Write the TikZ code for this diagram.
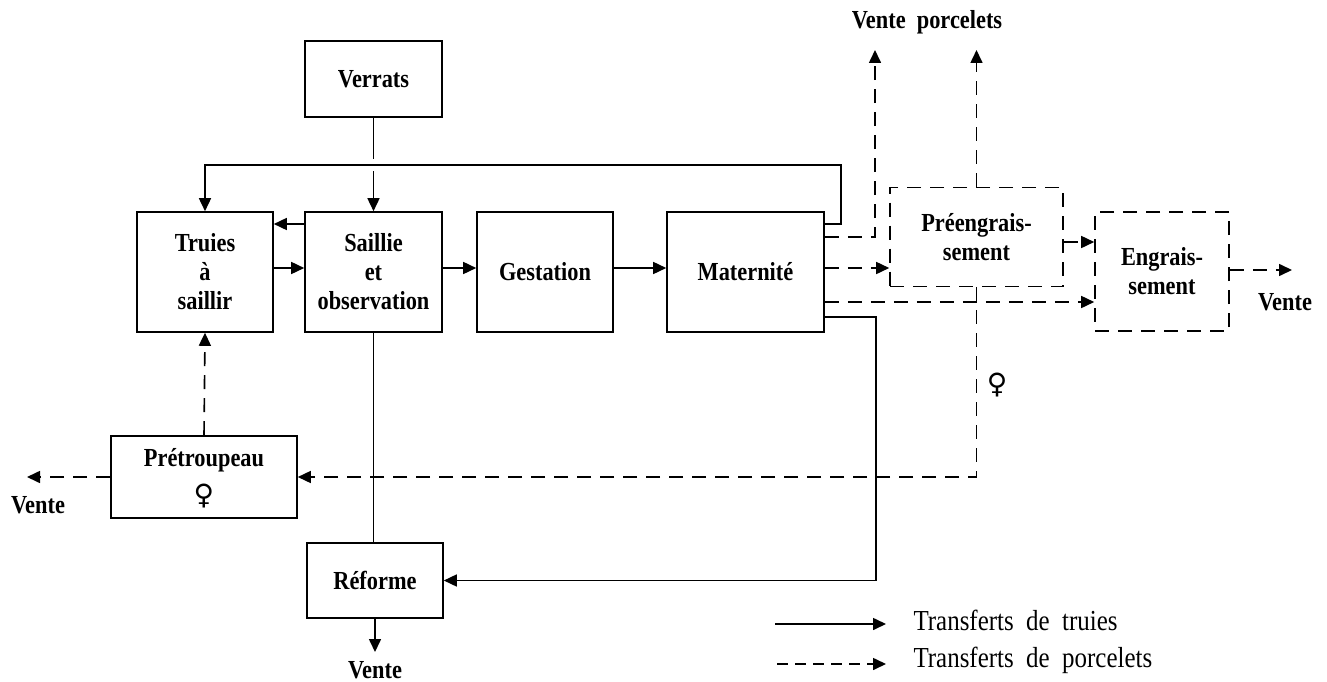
\documentclass[tikz,border=0pt]{standalone}
\usepackage{fontspec}
\setmainfont{Liberation Serif}[FakeStretch=0.86]
\newfontfamily\symfont{DejaVu Sans}
\usetikzlibrary{arrows.meta}
\begin{document}
\begin{tikzpicture}[x=1pt,y=-1pt,
  txt/.style={font=\fontsize{26}{29}\selectfont\bfseries},
  box/.style={draw, line width=1.6pt, align=center, inner sep=0pt, txt},
  dbox/.style={box, dash pattern=on 14pt off 9pt},
  conn/.style={line width=1.6pt},
  arr/.style={conn, -{Triangle[length=13pt,width=12pt]}},
  dsh/.style={dash pattern=on 14pt off 9pt},
  fsym/.style={font=\symfont\fontsize{28}{30}\selectfont},
  leg/.style={font=\fontsize{29}{30}\selectfont, anchor=west}]
\useasboundingbox (0,0) rectangle (1327,682);

% boxes
\node[box, minimum width=137pt, minimum height=76pt] (verrats) at (373.5,79) {Verrats};
\node[box, minimum width=136pt, minimum height=120pt] (truies) at (205,272) {Truies\\à\\saillir};
\node[box, minimum width=137pt, minimum height=120pt] (saillie) at (373.5,272) {Saillie\\et\\observation};
\node[box, minimum width=136pt, minimum height=120pt] (gestation) at (545,272) {Gestation};
\node[box, minimum width=157pt, minimum height=120pt] (maternite) at (745.5,272) {Maternité};
\node[dbox, minimum width=173pt, minimum height=99pt] (pre) at (976.5,237) {Préengrais-\\sement};
\node[dbox, minimum width=134pt, minimum height=119pt] (engr) at (1162,271.5) {Engrais-\\sement};
\node[box, minimum width=186pt, minimum height=82pt] (pretroupeau) at (204,477) {};
\node[txt] (pretxt) at (204,460) {Prétroupeau};
\node[fsym] (pfem) at (204,496) {♀};
\node[box, minimum width=136pt, minimum height=75pt] (reforme) at (375,580.5) {Réforme};

% labels
\node[txt] (ventepc) at (927,22) {Vente\ \ porcelets};
\node[txt] (vente1) at (1285,302) {Vente};
\node[txt] (vente2) at (38,505) {Vente};
\node[txt] (vente3) at (375,670) {Vente};
\node[fsym] (fem) at (997,385) {♀};

% coordinates
\coordinate (vp1) at (875,50);
\coordinate (c1) at (841,165);
\coordinate (c2) at (876,317);
\coordinate (ve1) at (1292,270);
\coordinate (ve2) at (27,477);
\coordinate (ve3) at (375,652);

% Verrats -> Saillie (with gap at crossing)
\draw[arr] (verrats.south) -- (saillie.north);
\fill[white] (368,158.5) rectangle (379,171);

% solid transfers
\draw[arr] (maternite.east |- 0,224) -- (c1 |- 0,224) -- (c1) -| (truies.north);
\draw[arr] (saillie.west |- 0,224) -- (truies.east |- 0,224);
\draw[arr] (truies.east |- 0,268) -- (saillie.west |- 0,268);
\draw[arr] (saillie.east |- 0,268) -- (gestation.west |- 0,268);
\draw[arr] (gestation.east |- 0,268) -- (maternite.west |- 0,268);
\draw[arr] (maternite.east |- c2) -- (c2) |- (reforme.east);
\draw[conn] (saillie.south) -- (saillie.south |- reforme.north);
\draw[arr] (reforme.south) -- (ve3);

% dashed transfers
\draw[arr, dsh] (maternite.east |- 0,237) -| (vp1);
\draw[arr, dsh] (maternite.east |- 0,268) -- (pre.west |- 0,268);
\draw[arr, dsh] (maternite.east |- 0,302) -- (engr.west |- 0,302);
\draw[arr, dsh] (pre.north) -- (pre.north |- vp1);
\draw[arr, dsh] (pre.east |- 0,242) -- (engr.west |- 0,242);
\draw[arr, dsh] (engr.east |- ve1) -- (ve1);
\draw[arr, dsh] (pre.south) |- (pretroupeau.east);
\draw[arr, dsh] (pretroupeau.north) -- (truies.south);
\draw[arr, dsh] (pretroupeau.west) -- (ve2);

% legend
\coordinate (l1a) at (775,624);
\coordinate (l1b) at (886,624);
\coordinate (l2a) at (777,664);
\coordinate (l2b) at (886,664);
\draw[arr] (l1a) -- (l1b);
\draw[arr, dash pattern=on 11pt off 7pt] (l2a) -- (l2b);
\node[leg] (leg1) at (910,620) {Transferts\ \ de\ \ truies};
\node[leg] (leg2) at (910,660) {Transferts\ \ de\ \ porcelets};
\end{tikzpicture}
\end{document}
